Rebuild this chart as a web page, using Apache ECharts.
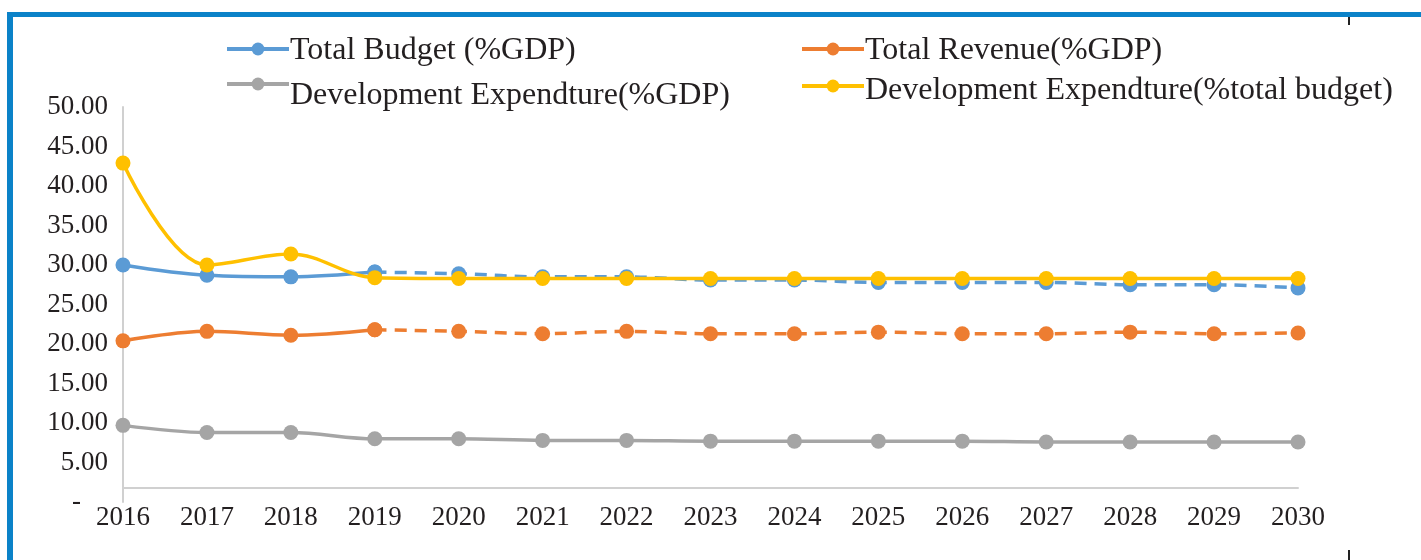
<!DOCTYPE html>
<html>
<head>
<meta charset="utf-8">
<script src="https://cdn.jsdelivr.net/npm/echarts@6/dist/echarts.min.js"></script>
<style>
html,body{margin:0;padding:0;background:#fff;}
#chart{width:1421px;height:560px;}
</style>
</head>
<body>
<div id="chart"></div>
<script>
const years = ['2016','2017','2018','2019','2020','2021','2022','2023','2024','2025','2026','2027','2028','2029','2030'];
const totalBudget = [30.0, 28.7, 28.5, 29.1, 28.9, 28.5, 28.5, 28.1, 28.1, 27.8, 27.8, 27.8, 27.5, 27.5, 27.1];
const totalRevenue = [20.4, 21.6, 21.1, 21.8, 21.6, 21.3, 21.6, 21.3, 21.3, 21.5, 21.3, 21.3, 21.5, 21.3, 21.4];
const devExpGDP = [9.7, 8.8, 8.8, 8.0, 8.0, 7.8, 7.8, 7.7, 7.7, 7.7, 7.7, 7.6, 7.6, 7.6, 7.6];
const devExpBudget = [42.9, 30.0, 31.4, 28.4, 28.3, 28.3, 28.3, 28.3, 28.3, 28.3, 28.3, 28.3, 28.3, 28.3, 28.3];
const yTicks = {min: 0, max: 50, interval: 5};
const forecastStart = 3; // index of 2019, dashed from here

const names = ['Total Budget (%GDP)', 'Total Revenue(%GDP)', 'Development Expendture(%GDP)', 'Development Expendture(%total budget)'];
const colors = ['#5b9bd5', '#ed7d31', '#a5a5a5', '#ffc000'];
const FONT = '"Liberation Serif", "DejaVu Serif", serif';
const TXT = '#231f20';

function actualPart(arr){ return arr.map((v,i)=> i<=forecastStart ? v : null); }
function forecastPart(arr){ return arr.map((v,i)=> i>=forecastStart ? v : null); }

function lineSeries(name, data, color, dashed, z){
  return {
    name: name, type: 'line', data: data, smooth: 0.35,
    symbol: 'circle', symbolSize: 15, showSymbol: true,
    connectNulls: false, z: z,
    lineStyle: {color: color, width: 3.5, type: dashed ? [12, 8] : 'solid'},
    itemStyle: {color: color},
    emphasis: {disabled: true},
    animation: false
  };
}

// shift: how far (px) the label text sits below the icon centre
function legendAt(name, left, iconY, shift){
  const pad = 2 * shift;
  return {
    data: [name], left: left, top: iconY - 15 - shift, orient: 'horizontal', padding: 0,
    itemWidth: 62, itemHeight: 16, itemGap: 0,
    lineStyle: {width: 4, type: 'solid'},
    formatter: n => '{t|' + n + '}',
    textStyle: {
      fontFamily: FONT, fontSize: 32, color: TXT,
      rich: {t: {fontFamily: FONT, fontSize: 32, color: TXT, lineHeight: 34, padding: [pad, 0, 0, -4]}}
    },
    selectedMode: false
  };
}

const chart = echarts.init(document.getElementById('chart'), null, {renderer: 'canvas'});
chart.setOption({
  backgroundColor: '#fff',
  animation: false,
  graphic: [
    {type: 'rect', shape: {x: 8, y: 12, width: 1413, height: 5}, style: {fill: '#0b82c8'}, silent: true},
    {type: 'rect', shape: {x: 7, y: 12, width: 6, height: 548}, style: {fill: '#0b82c8'}, silent: true},
    {type: 'rect', shape: {x: 1348, y: 17, width: 2, height: 8}, style: {fill: '#222'}, silent: true},
    {type: 'rect', shape: {x: 1348, y: 550, width: 2, height: 10}, style: {fill: '#222'}, silent: true}
  ],
  legend: [
    legendAt(names[0], 225, 48, 2),
    legendAt(names[1], 800, 48, 2),
    legendAt(names[2], 225, 83, 12),
    legendAt(names[3], 800, 85, 5)
  ],
  grid: {left: 123, right: 123, top: 107, bottom: 58, containLabel: false},
  xAxis: {
    type: 'category', data: years, boundaryGap: false,
    offset: -14,
    axisLine: {onZero: false, lineStyle: {color: '#d0d0d0', width: 2}},
    axisTick: {show: false},
    axisLabel: {fontFamily: FONT, fontSize: 27, color: TXT, margin: 16, interval: 0}
  },
  yAxis: {
    type: 'value', min: yTicks.min, max: yTicks.max, interval: yTicks.interval,
    splitLine: {show: false},
    axisLine: {show: true, lineStyle: {color: '#d0d0d0', width: 2}},
    axisTick: {show: false},
    axisLabel: {
      fontFamily: FONT, fontSize: 27, color: TXT, margin: 15,
      formatter: v => v === 0 ? '-    ' : v.toFixed(2)
    }
  },
  series: [
    lineSeries(names[2], devExpGDP, colors[2], false, 2),
    lineSeries(names[1], actualPart(totalRevenue), colors[1], false, 3),
    lineSeries(names[1], forecastPart(totalRevenue), colors[1], true, 3),
    lineSeries(names[0], actualPart(totalBudget), colors[0], false, 4),
    lineSeries(names[0], forecastPart(totalBudget), colors[0], true, 4),
    lineSeries(names[3], devExpBudget, colors[3], false, 5)
  ]
});
</script>
</body>
</html>
